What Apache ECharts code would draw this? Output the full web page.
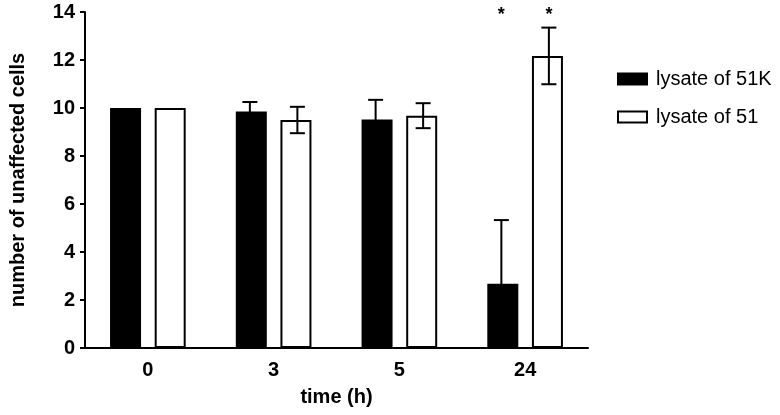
<!DOCTYPE html>
<html>
<head>
<meta charset="utf-8">
<script src="https://cdn.jsdelivr.net/npm/echarts@6/dist/echarts.min.js"></script>
<style>html,body{margin:0;padding:0;background:#fff;}#c{width:780px;height:415px;}</style>
</head>
<body>
<div id="c"></div>
<script>
var categories = ['0', '3', '5', '24'];
var seriesNames = ['lysate of 51K', 'lysate of 51'];
var values51K = [10, 9.85, 9.52, 2.68];
var errors51K = [0, 0.4, 0.82, 2.65];
var values51 = [10, 9.5, 9.68, 12.17];
var errors51 = [0, 0.55, 0.52, 1.18];
var stars51K = ['', '', '', '*'];
var stars51 = ['', '', '', '*'];
var yTicks = [0, 2, 4, 6, 8, 10, 12, 14];

var FONT = '"Liberation Sans", Arial, sans-serif';
var BAR_W = 31, BORDER = 2, GAP = 0.44;
var OUTER = BAR_W + BORDER;
var OFFSET = (OUTER + OUTER * GAP) / 2;

function errSeries(name, vals, errs, stars, dir) {
  return {
    type: 'custom',
    name: name + ' err',
    z: 5,
    data: vals.map(function (v, i) { return [i, v, errs[i]]; }),
    renderItem: function (params, api) {
      var i = api.value(0), v = api.value(1), e = api.value(2);
      var s = stars[params.dataIndex];
      var c = api.coord([i, v]);
      var x = c[0] + dir * OFFSET;
      var top = api.coord([i, v + e])[1];
      var bot = api.coord([i, v - e])[1];
      var children = [];
      if (e > 0) {
        var st = { stroke: '#000', lineWidth: 2 };
        children.push({ type: 'line', shape: { x1: x, y1: top, x2: x, y2: bot }, style: st });
        children.push({ type: 'line', shape: { x1: x - 7.5, y1: top, x2: x + 7.5, y2: top }, style: st });
        children.push({ type: 'line', shape: { x1: x - 7.5, y1: bot, x2: x + 7.5, y2: bot }, style: st });
      }
      if (s) {
        var sy = api.coord([i, 14])[1];
        children.push({ type: 'text', style: { text: s, x: x, y: sy + 3, align: 'center', verticalAlign: 'middle', font: 'bold 18px ' + FONT, fill: '#000' } });
      }
      return { type: 'group', children: children };
    },
    silent: true,
    tooltip: { show: false }
  };
}

var chart = echarts.init(document.getElementById('c'));
chart.setOption({
  animation: false,
  backgroundColor: '#fff',
  textStyle: { fontFamily: FONT, color: '#000' },
  grid: { left: 83, right: 192, top: 12, bottom: 67, containLabel: false },
  legend: {
    orient: 'vertical', left: 612, top: 64,
    itemWidth: 29, itemHeight: 11, itemGap: 18,
    icon: 'rect',
    data: seriesNames,
    textStyle: { fontFamily: FONT, fontSize: 20, color: '#000', padding: [0, 0, 0, 4] }
  },
  xAxis: {
    type: 'category', data: categories,
    name: 'time (h)', nameLocation: 'middle', nameGap: 39,
    nameTextStyle: { fontFamily: FONT, fontSize: 20, fontWeight: 'bold', color: '#000' },
    axisLine: { lineStyle: { color: '#000', width: 2 } },
    axisTick: { alignWithLabel: true, length: 5, lineStyle: { color: '#000', width: 2 } },
    axisLabel: { fontFamily: FONT, fontSize: 20, fontWeight: 'bold', color: '#000', margin: 12 },
    splitLine: { show: false }
  },
  yAxis: {
    type: 'value', min: 0, max: 14, interval: 2,
    name: 'number of unaffected cells', nameLocation: 'middle', nameGap: 57,
    nameTextStyle: { fontFamily: FONT, fontSize: 20, fontWeight: 'bold', color: '#000' },
    axisLine: { show: true, lineStyle: { color: '#000', width: 2 } },
    axisTick: { show: true, length: 5, lineStyle: { color: '#000', width: 2 } },
    axisLabel: { fontFamily: FONT, fontSize: 20, fontWeight: 'bold', color: '#000', margin: 10,
      formatter: function (v) { return yTicks.indexOf(v) >= 0 ? String(v) : ''; } },
    splitLine: { show: false }
  },
  series: [
    { type: 'bar', name: seriesNames[0], data: values51K, barWidth: BAR_W, barGap: (GAP * 100) + '%',
      itemStyle: { color: '#000', borderColor: '#000', borderWidth: BORDER } },
    { type: 'bar', name: seriesNames[1], data: values51, barWidth: BAR_W,
      itemStyle: { color: '#fff', borderColor: '#000', borderWidth: BORDER } },
    errSeries(seriesNames[0], values51K, errors51K, stars51K, -1),
    errSeries(seriesNames[1], values51, errors51, stars51, 1)
  ]
});
</script>
</body>
</html>
